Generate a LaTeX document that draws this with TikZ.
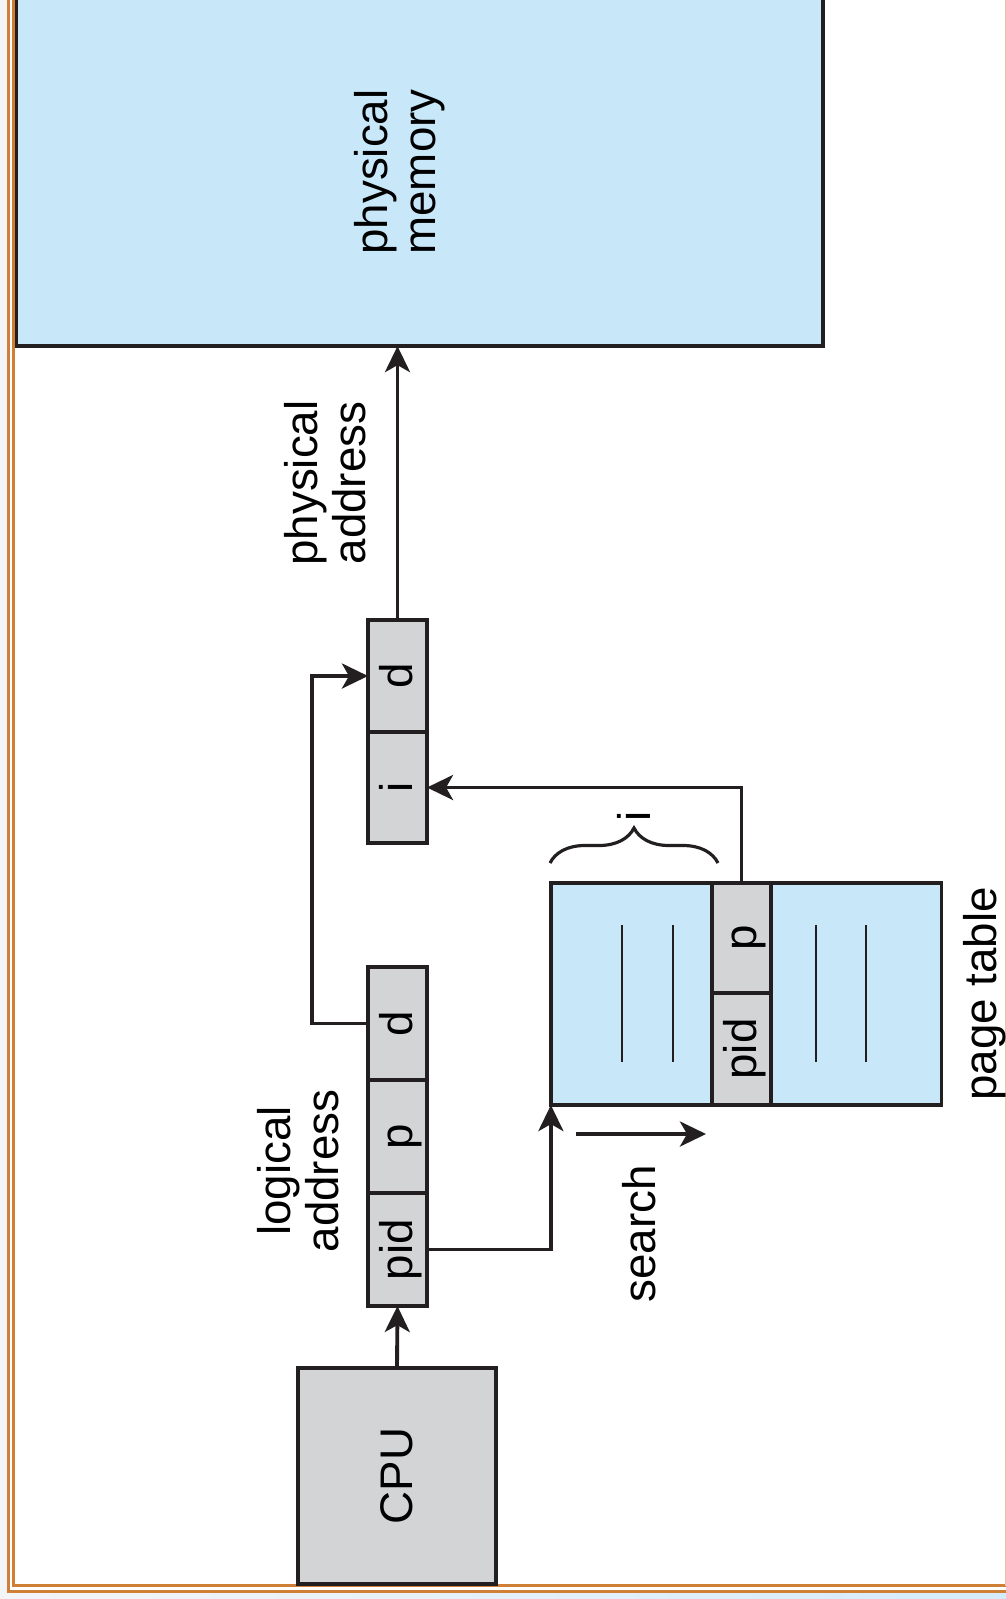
\documentclass[tikz,border=0pt]{standalone}
\usepackage{fontspec}
\setmainfont{Liberation Sans}
\usepackage{graphicx}
\usetikzlibrary{arrows.meta,decorations.pathreplacing}

\definecolor{memblue}{RGB}{200,232,250}
\definecolor{cellgray}{RGB}{210,212,214}
\definecolor{frameorange}{RGB}{207,127,54}
\definecolor{framepeach}{RGB}{232,196,166}
\definecolor{outergray}{RGB}{243,245,247}
\definecolor{outerblue}{RGB}{212,235,250}
\definecolor{ink}{RGB}{35,31,32}

\newcommand{\celltxt}[1]{\rotatebox{90}{\rule[-0.8pt]{0pt}{10.2pt}\smash{#1}}}

\tikzset{
  box/.style={draw=ink, line width=1pt, inner sep=0pt, outer sep=0pt},
  cell/.style={box, fill=cellgray, minimum width=.59cm},
  bluebox/.style={box, fill=memblue},
  lbl/.style={rotate=90, align=center, inner sep=0pt},
  link/.style={draw=ink, line width=1.1pt, -{Stealth[length=2.6mm,width=2.5mm,inset=.7mm]}},
}

\begin{document}
\begin{tikzpicture}[x=0.01cm, y=-0.01cm, font=\fontsize{13}{13.7}\selectfont]
  \clip (0,0) rectangle (1006,1599);
  \fill[outergray] (0,0) rectangle (1006,1599);
  \fill[white] (9.5,-5) rectangle (1010,1590);
  \shade[left color=outergray, right color=outerblue] (0,1593) rectangle (1010,1600);
  \draw[frameorange, line width=.7pt] (8.3,-5) -- (8.3,1591.5) -- (1010,1591.5);
  \draw[frameorange, line width=.7pt] (13.5,-5) -- (13.5,1585.5) -- (1010,1585.5);
  \draw[framepeach, line width=.4pt] (1005.3,-5) -- (1005.3,1585.5);

  \node[bluebox, minimum width=8.065cm, minimum height=3.56cm] (mem) at (419.75,168) {};
  \node[lbl] (memlbl) at (400,172) {physical\\memory};

  \node[cell, minimum height=1.12cm] (id_d) at (397.5,676) {\celltxt{d}};
  \node[cell, minimum height=1.11cm] (id_i) at (397.5,787.5) {\celltxt{i}};
  \node[lbl] (physlbl) at (325,483) {physical\\address};

  \node[cell, minimum height=1.13cm] (la_d) at (397.5,1023.5) {\celltxt{d}};
  \node[cell, minimum height=1.13cm] (la_p) at (397.5,1136.5) {\celltxt{p}};
  \node[cell, minimum height=1.13cm] (la_pid) at (397.5,1249.5) {\celltxt{pid}};
  \node[lbl] (loglbl) at (298,1171) {logical\\address};

  \node[cell, minimum width=1.98cm, minimum height=2.16cm] (cpu) at (397,1476) {\rotatebox{90}{CPU}};

  \node[bluebox, minimum width=3.905cm, minimum height=2.22cm] (pt) at (746.25,994) {};
  \node[cell, minimum height=1.10cm] (pt_p) at (741.5,938) {\celltxt{p}};
  \node[cell, minimum height=1.12cm] (pt_pid) at (741.5,1049) {\celltxt{pid}};
  \draw[ink, line width=.8pt] (622,925) -- (622,1062);
  \draw[ink, line width=.8pt] (673,925) -- (673,1062);
  \draw[ink, line width=.8pt] (816,925) -- (816,1062);
  \draw[ink, line width=.8pt] (866,925) -- (866,1062);
  \node[lbl] (ptlbl) at (985,994) {page table};

  \draw[ink, line width=.9pt, decorate, decoration={brace, amplitude=3.5mm}] (550,863) -- (718,863);
  \node[lbl] (ilbl) at (634,816) {i};

  \coordinate (s0) at (576,1134);
  \coordinate (s1) at (706,1134);
  \node[lbl] (searchlbl) at (639,1234) {search};

  \begin{scope}[link]
    \draw (cpu.north) -- (la_pid.south);
    \draw (la_pid.east) -| (pt.south west);
    \draw (la_d.west) -- ++(-56,0) |- (id_d.west);
    \draw (pt_p.north) |- (id_i.east);
    \draw (id_d.north) -- (id_d.north |- mem.south);
    \draw (s0) -- (s1);
  \end{scope}
\end{tikzpicture}
\end{document}
